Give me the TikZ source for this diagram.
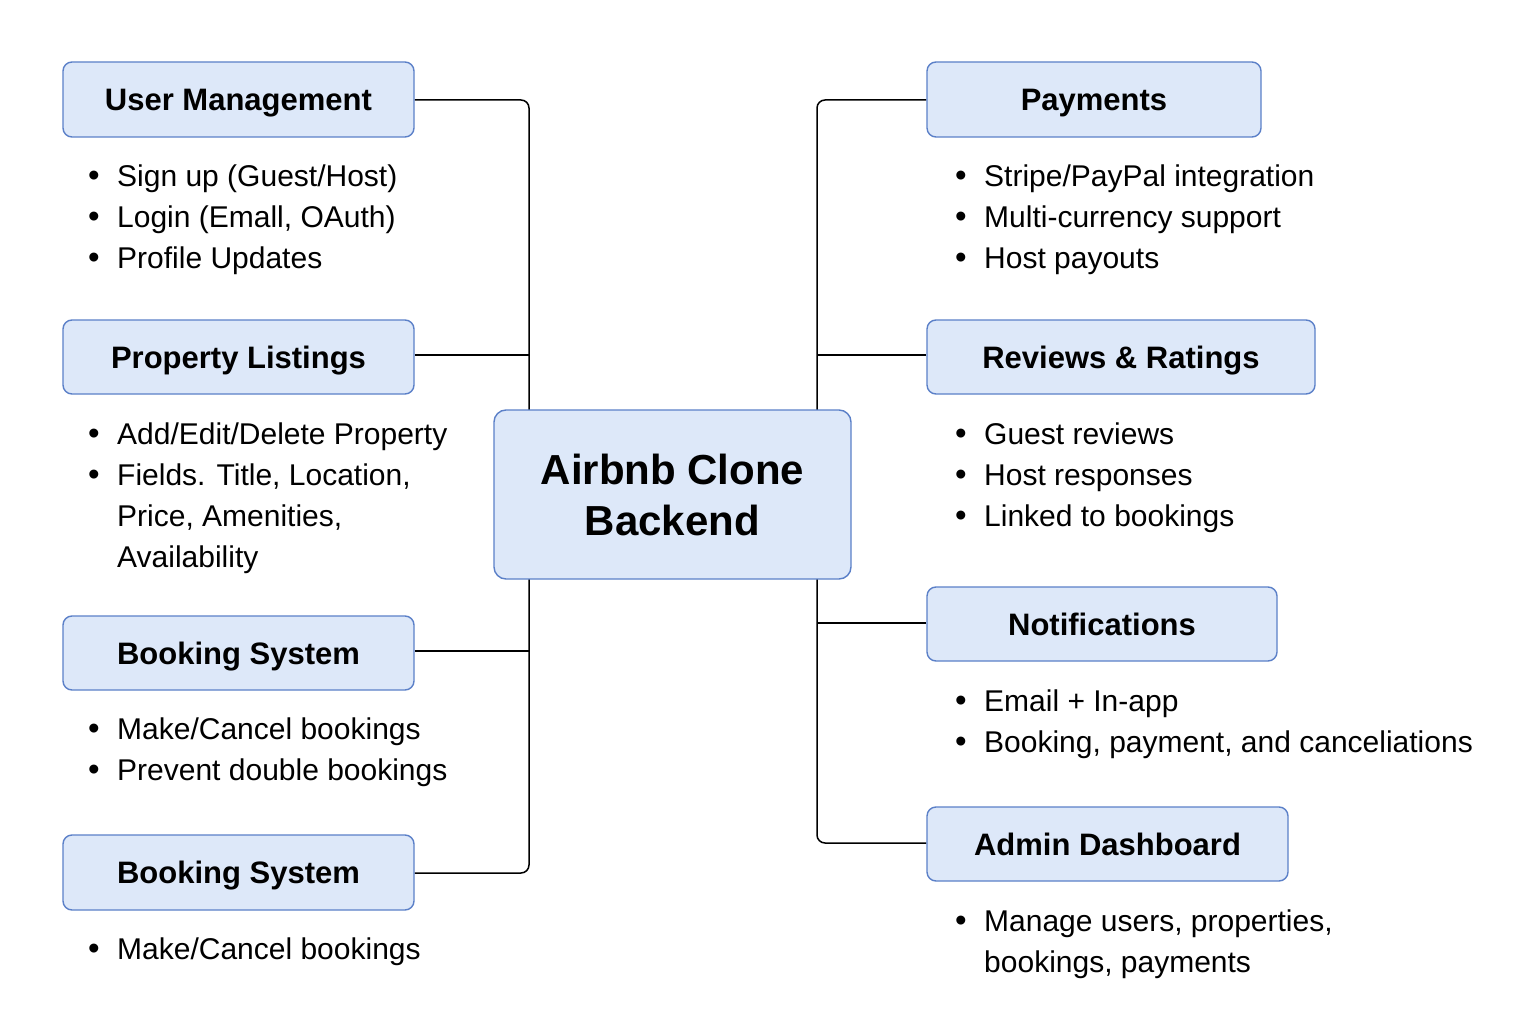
\documentclass[tikz,border=0pt]{standalone}
\usepackage{fontspec}
\setmainfont{Liberation Sans}
\usetikzlibrary{backgrounds}
\definecolor{boxfill}{HTML}{DDE8F9}
\definecolor{boxline}{HTML}{5B80C8}
\tikzset{
  topic/.style={draw=boxline, fill=boxfill, line width=1.4pt, rounded corners=9pt,
    inner sep=0pt, text height=22pt, text depth=0pt, font=\fontsize{31}{36}\selectfont\bfseries},
  hub/.style={draw=boxline, fill=boxfill, line width=1.4pt, rounded corners=12pt,
    inner sep=0pt, font=\fontsize{42}{51}\selectfont\bfseries, align=center},
  conn/.style={draw=black, line width=1.5pt, rounded corners=8pt},
  items/.style={anchor=base west, inner sep=0pt, font=\fontsize{30}{41}\selectfont},
}
\newcommand{\bul}{\makebox[29pt][l]{\fontsize{33}{41}\selectfont•}}
\begin{document}
\begin{tikzpicture}[x=1pt,y=-1pt]
\useasboundingbox (0,0) rectangle (1536,1024);

\node[hub, minimum width=357pt, minimum height=169pt] (hub) at (672.5,494.5) {Airbnb Clone\\Backend};

\node[topic, minimum width=351pt, minimum height=75pt] (um) at (238.5,99.5) {User Management};
\node[topic, minimum width=351pt, minimum height=74pt] (pl) at (238.5,357) {Property Listings};
\node[topic, minimum width=351pt, minimum height=74pt] (bs) at (238.5,653) {Booking System};
\node[topic, minimum width=351pt, minimum height=75pt] (bs2) at (238.5,872.5) {Booking System};

\node[topic, minimum width=334pt, minimum height=75pt] (pay) at (1094,99.5) {Payments};
\node[topic, minimum width=388pt, minimum height=74pt] (rev) at (1121,357) {Reviews \& Ratings};
\node[topic, minimum width=350pt, minimum height=74pt] (notif) at (1102,624) {Notifications};
\node[topic, minimum width=361pt, minimum height=74pt] (admin) at (1107.5,844) {Admin Dashboard};

\coordinate (LT) at (529,100);
\coordinate (LB) at (529,873);
\coordinate (RT) at (817,100);
\coordinate (RB) at (817,843);

\begin{scope}[on background layer]
\fill[white] (0,0) rectangle (1536,1024);
\draw[conn] (um.east |- LT) -- (LT) -- (LB) -- (bs2.east |- LB);
\draw[conn] (pl.east |- 0,355) -- (LT |- 0,355);
\draw[conn] (bs.east |- 0,651) -- (LT |- 0,651);
\draw[conn] (pay.west |- RT) -- (RT) -- (RB) -- (admin.west |- RB);
\draw[conn] (rev.west |- 0,355) -- (RT |- 0,355);
\draw[conn] (notif.west |- 0,623) -- (RT |- 0,623);
\end{scope}

\node[items] (umi) at (88,187) {\begin{tabular}[t]{@{}l@{}}\bul Sign up (Guest/Host)\\\bul Login (Emall, OAuth)\\\bul Profile Updates\end{tabular}};
\node[items] (pli) at (88,444) {\begin{tabular}[t]{@{}l@{}}\bul Add/Edit/Delete Property\\\bul Fields. Title, Location,\\\hspace{29pt}Price, Amenities,\\\hspace{29pt}Availability\end{tabular}};
\node[items] (bsi) at (88,739) {\begin{tabular}[t]{@{}l@{}}\bul Make/Cancel bookings\\\bul Prevent double bookings\end{tabular}};
\node[items] (bs2i) at (88,959) {\begin{tabular}[t]{@{}l@{}}\bul Make/Cancel bookings\end{tabular}};

\node[items] (payi) at (955,187) {\begin{tabular}[t]{@{}l@{}}\bul Stripe/PayPal integration\\\bul Multi-currency support\\\bul Host payouts\end{tabular}};
\node[items] (revi) at (955,444) {\begin{tabular}[t]{@{}l@{}}\bul Guest reviews\\\bul Host responses\\\bul Linked to bookings\end{tabular}};
\node[items] (notifi) at (955,711) {\begin{tabular}[t]{@{}l@{}}\bul Email + In-app\\\bul Booking, payment, and canceliations\end{tabular}};
\node[items] (admini) at (955,931) {\begin{tabular}[t]{@{}l@{}}\bul Manage users, properties,\\\hspace{29pt}bookings, payments\end{tabular}};
\end{tikzpicture}
\end{document}
